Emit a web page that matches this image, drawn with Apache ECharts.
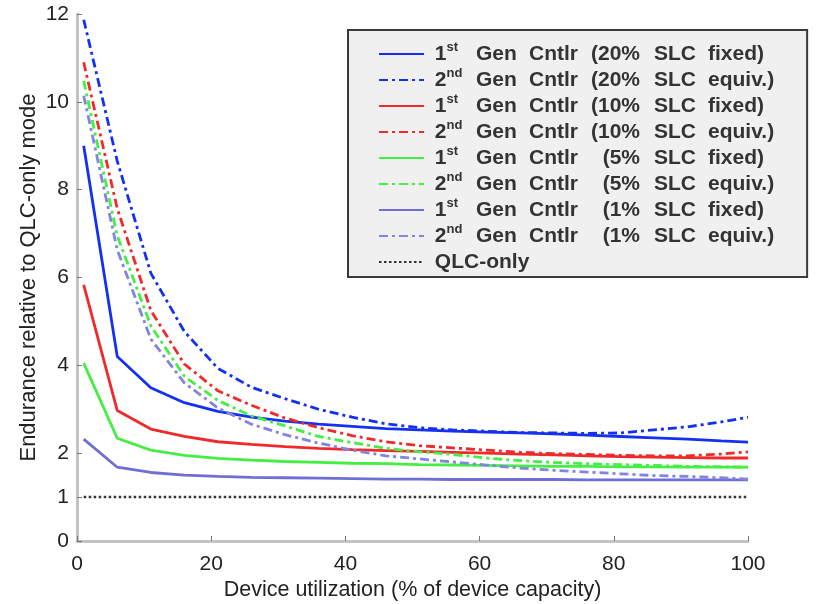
<!DOCTYPE html>
<html><head><meta charset="utf-8">
<script src="https://cdn.jsdelivr.net/npm/echarts@6/dist/echarts.min.js"></script>
<style>html,body{margin:0;padding:0;background:#fff}#c{width:818px;height:604px}</style>
</head><body><div id="c"></div><script>
// Device utilization (% of device capacity)
const utilization = [1,6,11,16,21,26,31,36,41,46,51,56,61,66,71,76,81,86,91,96,100];
// Endurance relative to QLC-only mode
const gen1_20 = [9.0,4.2,3.49,3.15,2.95,2.82,2.73,2.66,2.61,2.56,2.53,2.5,2.48,2.46,2.44,2.41,2.38,2.35,2.32,2.28,2.25];
const gen2_20 = [11.87,8.65,6.1,4.77,3.93,3.5,3.24,3.0,2.82,2.67,2.58,2.53,2.5,2.47,2.46,2.45,2.46,2.53,2.6,2.71,2.82];
const gen1_10 = [5.83,2.97,2.55,2.38,2.26,2.2,2.15,2.11,2.08,2.06,2.04,2.02,2.0,1.98,1.96,1.94,1.92,1.91,1.9,1.89,1.89];
const gen2_10 = [10.9,7.57,5.25,4.03,3.42,3.09,2.8,2.58,2.4,2.26,2.17,2.12,2.07,2.02,1.99,1.97,1.95,1.94,1.94,1.98,2.03];
const gen1_5  = [4.05,2.34,2.07,1.95,1.88,1.84,1.81,1.79,1.77,1.76,1.74,1.73,1.72,1.71,1.7,1.7,1.69,1.69,1.68,1.68,1.68];
const gen2_5  = [10.48,6.95,4.9,3.75,3.2,2.85,2.62,2.38,2.24,2.11,2.03,1.97,1.89,1.83,1.79,1.76,1.74,1.72,1.7,1.69,1.68];
const gen1_1  = [2.32,1.68,1.56,1.5,1.47,1.45,1.44,1.43,1.42,1.41,1.41,1.4,1.4,1.4,1.4,1.39,1.39,1.39,1.39,1.39,1.39];
const gen2_1  = [10.14,6.63,4.6,3.6,3.03,2.66,2.42,2.23,2.07,1.94,1.87,1.8,1.73,1.66,1.61,1.57,1.53,1.49,1.47,1.44,1.41];
const qlcOnly = [1,1,1,1,1,1,1,1,1,1,1,1,1,1,1,1,1,1,1,1,1];

const xTicks = [0,20,40,60,80,100];
const yTicks = [0,1,2,4,6,8,10,12];

const seriesNames = [
  '1st Gen Cntlr (20% SLC fixed)','2nd Gen Cntlr (20% SLC equiv.)',
  '1st Gen Cntlr (10% SLC fixed)','2nd Gen Cntlr (10% SLC equiv.)',
  '1st Gen Cntlr (5% SLC fixed)','2nd Gen Cntlr (5% SLC equiv.)',
  '1st Gen Cntlr (1% SLC fixed)','2nd Gen Cntlr (1% SLC equiv.)',
  'QLC-only'
];
const seriesData = [gen1_20,gen2_20,gen1_10,gen2_10,gen1_5,gen2_5,gen1_1,gen2_1,qlcOnly];
const colors = ['#1430f2','#1430f2','#f02a2a','#f02a2a','#44ee44','#44ee44','#6e6ed6','#8383e0','#333333'];
const dashDot = [9,4,3,4];
const styles = ['solid',dashDot,'solid',dashDot,'solid',dashDot,'solid',dashDot,[2.5,2.5]];

function legendFmt(name){
  if (name === 'QLC-only') return '{q| QLC-only}';
  const m = name.match(/^(\d)(st|nd) Gen Cntlr \((\d+%) SLC (.*)\)$/);
  const pct = m[3].length < 3 ? '  (' + m[3] : '(' + m[3];
  return '{n| ' + m[1] + '}{s|' + m[2] + '}{g|Gen}{c|Cntlr}{p|' + pct + '}{l|SLC}{f|' + m[4] + ')}';
}

const FF = 'Liberation Sans, Arial, sans-serif';
const base = {fontFamily:FF, fontWeight:'bold', fontSize:21, color:'#333', lineHeight:26};
const chart = echarts.init(document.getElementById('c'), null, {renderer:'canvas'});
chart.setOption({
  animation:false,
  backgroundColor:'#fff',
  grid:{left:77,right:70,top:14,bottom:63,outerBoundsMode:'none',containLabel:false},
  xAxis:{
    type:'value', min:0, max:100, interval:20,
    name:'Device utilization (% of device capacity)', nameLocation:'middle', nameGap:38,
    nameMoveOverlap:false,
    nameTextStyle:{fontFamily:FF, fontSize:21.5, color:'#222'},
    axisLine:{lineStyle:{color:'#c4c4c4', width:3}},
    axisTick:{inside:true, length:5, lineStyle:{color:'#777', width:1}, customValues:xTicks},
    axisLabel:{fontFamily:FF, fontSize:21, color:'#222', margin:13, customValues:xTicks},
    splitLine:{show:false}
  },
  yAxis:{
    type:'value', min:0, max:12, interval:1,
    name:'Endurance relative to QLC-only mode', nameLocation:'middle', nameGap:37,
    nameMoveOverlap:false,
    nameTextStyle:{fontFamily:FF, fontSize:22, color:'#222'},
    axisLine:{show:true, lineStyle:{color:'#c4c4c4', width:3}},
    axisTick:{show:true, inside:true, length:5, lineStyle:{color:'#777', width:1}, customValues:yTicks},
    axisLabel:{fontFamily:FF, fontSize:21, color:'#222', margin:8, customValues:yTicks},
    splitLine:{show:false}
  },
  legend:{
    orient:'vertical', left:348, top:30,
    padding:[11,33,2,30],
    itemWidth:45, itemHeight:14, itemGap:0,
    backgroundColor:'#f0f0f0', borderColor:'#3a3a3a', borderWidth:2, borderRadius:0,
    itemStyle:{opacity:0},
    data:seriesNames,
    formatter:legendFmt,
    textStyle:Object.assign({}, base, {
      rich:{
        n:Object.assign({}, base),
        s:Object.assign({}, base, {fontSize:13, lineHeight:16, verticalAlign:'top', width:29.5}),
        g:Object.assign({}, base, {width:53}),
        c:Object.assign({}, base, {width:62}),
        p:Object.assign({}, base, {width:63}),
        l:Object.assign({}, base, {width:54}),
        f:Object.assign({}, base),
        q:Object.assign({}, base)
      }
    })
  },
  series: seriesNames.map((name,i)=>({
    name:name, type:'line', symbol:'none',
    data: utilization.map((x,j)=>[x, seriesData[i][j]]),
    lineStyle:{color:colors[i], width: i===8 ? 2.5 : 2.8, type:styles[i]},
    itemStyle:{color:colors[i]},
    z: 2 + (i===8 ? 0 : i)
  }))
});
</script></body></html>
